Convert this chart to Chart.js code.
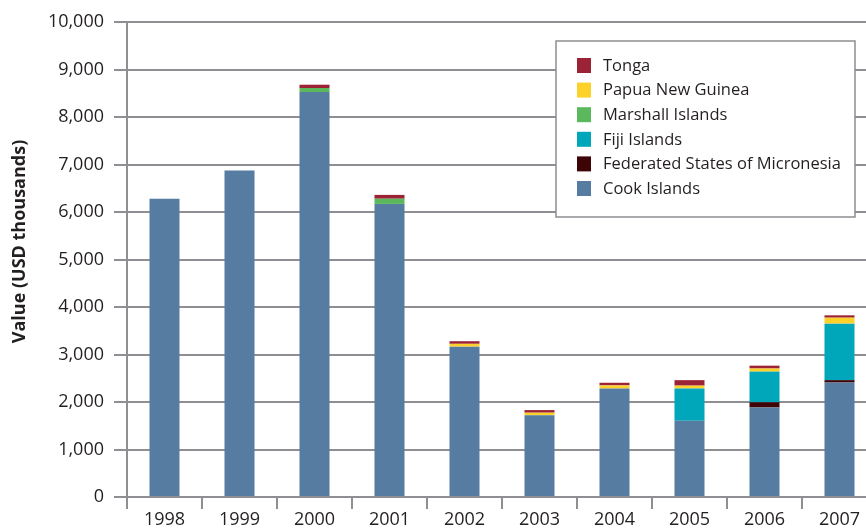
<!DOCTYPE html>
<html>
<head>
<meta charset="utf-8">
<script src="https://cdn.jsdelivr.net/npm/chart.js@4.4.1/dist/chart.umd.min.js"></script>
<style>
  html, body { margin: 0; padding: 0; background: #fff; }
  #wrap { width: 866px; height: 528px; overflow: hidden; position: relative; }
  #chart { position: absolute; left: 0; top: 0; }
</style>
</head>
<body>
<div id="wrap">
  <canvas id="chart" width="890" height="528"></canvas>
</div>
<script>
// values in USD thousands
const years = ['1998', '1999', '2000', '2001', '2002', '2003', '2004', '2005', '2006', '2007'];
const cookIslands = [6280, 6875, 8525, 6170, 3165, 1720, 2285, 1605, 1885, 2410];
const micronesia  = [0, 0, 0, 0, 0, 0, 0, 0, 110, 50];
const fijiIslands = [0, 0, 0, 0, 0, 0, 0, 680, 645, 1190];
const marshall    = [0, 0, 85, 110, 0, 0, 0, 0, 0, 0];
const papuaNG     = [0, 0, 0, 0, 60, 55, 65, 60, 65, 125];
const tonga       = [0, 0, 70, 80, 55, 55, 55, 115, 60, 50];
const yTicks = [0, 1000, 2000, 3000, 4000, 5000, 6000, 7000, 8000, 9000, 10000];
const yTitle = 'Value (USD thousands)';

const GRID = '#8e8e93';
const TEXT = '#231f20';

Chart.defaults.font.family = "'Open Sans', sans-serif";
Chart.defaults.color = TEXT;

// boxed legend drawn inside the plot, top item first
const boxLegend = {
  id: 'boxLegend',
  afterDatasetsDraw(chart) {
    const ctx = chart.ctx;
    ctx.save();
    ctx.fillStyle = '#fff';
    ctx.fillRect(556, 41, 299, 176);
    ctx.strokeStyle = GRID;
    ctx.lineWidth = 1.5;
    ctx.strokeRect(556, 41, 299, 176);
    ctx.font = "16.5px 'Open Sans', sans-serif";
    ctx.textBaseline = 'middle';
    const items = chart.data.datasets.slice().reverse();
    items.forEach((ds, i) => {
      const y = 65 + i * 24.6;
      ctx.fillStyle = ds.backgroundColor;
      ctx.fillRect(577, y - 7, 14, 15);
      ctx.fillStyle = TEXT;
      ctx.fillText(ds.label, 603, y + 1);
    });
    ctx.restore();
  }
};

// axis title sits a bit above the middle of the axis in the reference
const sideTitle = {
  id: 'sideTitle',
  afterDraw(chart) {
    const ctx = chart.ctx;
    ctx.save();
    ctx.translate(20, 241.5);
    ctx.rotate(-Math.PI / 2);
    ctx.font = "bold 18px 'Open Sans', sans-serif";
    ctx.fillStyle = TEXT;
    ctx.textAlign = 'center';
    ctx.textBaseline = 'middle';
    ctx.fillText(yTitle, 0, 0);
    ctx.restore();
  }
};

function bar(label, data, color) {
  return { label, data, backgroundColor: color, barPercentage: 0.4, categoryPercentage: 1.0 };
}

const ctx = document.getElementById('chart').getContext('2d');
new Chart(ctx, {
  type: 'bar',
  data: {
    labels: years,
    datasets: [
      bar('Cook Islands', cookIslands, '#567ca2'),
      bar('Federated States of Micronesia', micronesia, '#3d0506'),
      bar('Fiji Islands', fijiIslands, '#00a6b9'),
      bar('Marshall Islands', marshall, '#5cb85c'),
      bar('Papua New Guinea', papuaNG, '#fcd12a'),
      bar('Tonga', tonga, '#9b2335')
    ]
  },
  options: {
    responsive: false,
    animation: false,
    layout: { padding: { top: 22, right: 13, left: 0, bottom: 0 } },
    plugins: { legend: { display: false }, tooltip: { enabled: false } },
    scales: {
      x: {
        stacked: true,
        offset: true,
        grid: { drawOnChartArea: false, drawTicks: true, tickLength: 12, color: GRID, lineWidth: 2, offset: true },
        border: { color: GRID, width: 2 },
        ticks: { font: { size: 18 }, color: TEXT, padding: 0, maxRotation: 0 },
        afterFit(scale) { scale.height = 31; }
      },
      y: {
        stacked: true,
        min: yTicks[0],
        max: yTicks[yTicks.length - 1],
        afterBuildTicks(scale) { scale.ticks = yTicks.map(v => ({ value: v })); },
        grid: { color: GRID, lineWidth: 2, tickLength: 13, drawTicks: true },
        border: { color: GRID, width: 2 },
        ticks: {
          font: { size: 18 }, color: TEXT, padding: 10,
          callback: v => v.toLocaleString('en-US')
        },
        afterFit(scale) { scale.width = 127; }
      }
    }
  },
  plugins: [boxLegend, sideTitle]
});
</script>
</body>
</html>
